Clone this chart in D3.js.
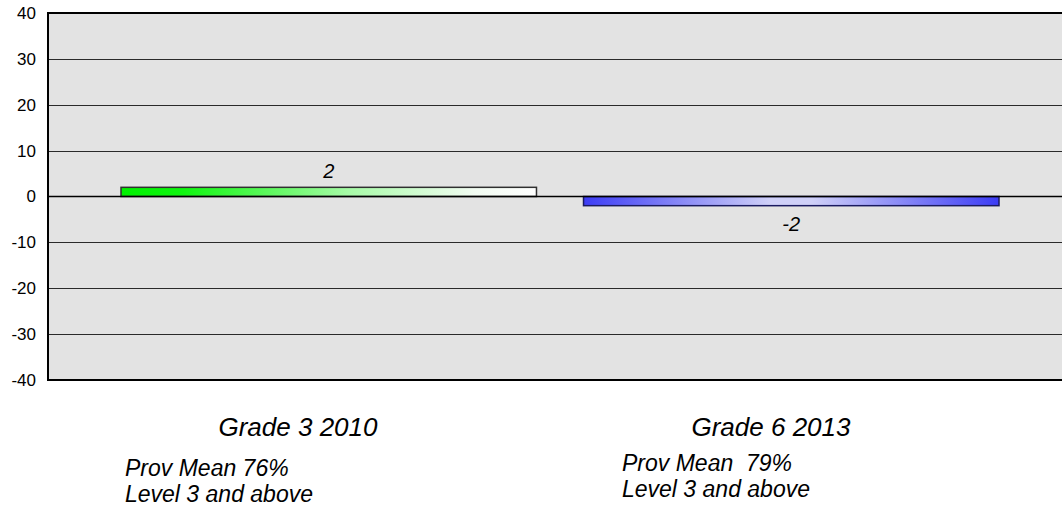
<!DOCTYPE html>
<html>
<head>
<meta charset="utf-8">
<script src="https://cdn.jsdelivr.net/npm/d3@7"></script>
<style>
  html, body { margin: 0; padding: 0; background: #ffffff; }
  svg { display: block; font-family: "Liberation Sans", Arial, sans-serif; }
</style>
</head>
<body>
<svg id="chart" width="1062" height="513"></svg>
<script>
// ---- data ----
const categories = ["Grade 3 2010", "Grade 6 2013"];
const values = [2, -2];
const subLine1 = ["Prov Mean 76%", "Prov Mean\u00a0 79%"];
const subLine2 = ["Level 3 and above", "Level 3 and above"];
const yTicks = [40, 30, 20, 10, 0, -10, -20, -30, -40];

// ---- layout ----
const svg = d3.select("#chart");
const plot = { left: 48, right: 1063, top: 13, bottom: 380 };

const y = d3.scaleLinear().domain([-40, 40]).range([plot.bottom, plot.top]);
const x = d3.scaleBand().domain(categories).range([121, 999]).paddingInner(47 / 462).paddingOuter(0);
const labelX = d3.scaleOrdinal().domain(categories).range([298, 771]);
const subX = d3.scaleOrdinal().domain(categories).range([125, 622]);
const subY = d3.scaleOrdinal().domain(categories).range([0, -5]);

const defs = svg.append("defs");
const g1 = defs.append("linearGradient").attr("id", "gradGreen").attr("x1", "0%").attr("x2", "100%");
g1.append("stop").attr("offset", "0%").attr("stop-color", "#00f000");
g1.append("stop").attr("offset", "15%").attr("stop-color", "#10f510");
g1.append("stop").attr("offset", "55%").attr("stop-color", "#a8fba8");
g1.append("stop").attr("offset", "85%").attr("stop-color", "#f2fcf2");
g1.append("stop").attr("offset", "100%").attr("stop-color", "#ffffff");

const g2 = defs.append("linearGradient").attr("id", "gradBlue").attr("x1", "0%").attr("x2", "100%");
g2.append("stop").attr("offset", "0%").attr("stop-color", "#3c3cf5");
g2.append("stop").attr("offset", "45%").attr("stop-color", "#cfd0f8");
g2.append("stop").attr("offset", "55%").attr("stop-color", "#cfd0f8");
g2.append("stop").attr("offset", "100%").attr("stop-color", "#3c3cf5");
const fills = ["url(#gradGreen)", "url(#gradBlue)"];
const strokes = ["#303030", "#1a1a60"];

// plot background
svg.append("rect")
  .attr("x", plot.left).attr("y", plot.top)
  .attr("width", plot.right - plot.left).attr("height", plot.bottom - plot.top)
  .attr("fill", "#e3e3e3");

// gridlines
svg.append("g").selectAll("line").data(yTicks.filter(t => t !== 0 && t !== -40))
  .join("line")
  .attr("x1", plot.left).attr("x2", plot.right)
  .attr("y1", d => Math.round(y(d)) + 0.5).attr("y2", d => Math.round(y(d)) + 0.5)
  .attr("stroke", "#2a2a2a").attr("stroke-width", 1.2);

// y axis
const yAxis = d3.axisLeft(y).tickValues(yTicks).tickFormat(d => String(d)).tickSize(0).tickPadding(12);
const ya = svg.append("g").attr("transform", `translate(${plot.left},0)`).call(yAxis);
ya.select(".domain").remove();
ya.selectAll("text").attr("font-size", 17).attr("fill", "#000")
  .attr("font-family", "Liberation Sans, Arial, sans-serif");

// bars
svg.append("g").selectAll("rect").data(values)
  .join("rect")
  .attr("x", (d, i) => x(categories[i]))
  .attr("width", x.bandwidth())
  .attr("y", d => y(Math.max(0, d)))
  .attr("height", d => Math.abs(y(d) - y(0)))
  .attr("fill", (d, i) => fills[i])
  .attr("stroke", (d, i) => strokes[i]).attr("stroke-width", 1.5);

// zero line
svg.append("line")
  .attr("x1", plot.left).attr("x2", plot.right)
  .attr("y1", y(0)).attr("y2", y(0))
  .attr("stroke", "#000").attr("stroke-width", 1.5);

// plot border (left, top, bottom)
svg.append("path")
  .attr("d", `M${plot.right},${plot.top}H${plot.left}V${plot.bottom}H${plot.right}`)
  .attr("fill", "none").attr("stroke", "#000").attr("stroke-width", 2);

// value labels
svg.append("g").selectAll("text").data(values)
  .join("text")
  .attr("x", (d, i) => x(categories[i]) + x.bandwidth() / 2)
  .attr("y", d => d >= 0 ? y(d) - 9 : y(d) + 25)
  .attr("text-anchor", "middle")
  .attr("font-size", 20).attr("font-style", "italic")
  .text(d => String(d));

// category labels
svg.append("g").selectAll("text").data(categories)
  .join("text")
  .attr("x", d => labelX(d))
  .attr("y", 436)
  .attr("text-anchor", "middle")
  .attr("font-size", 26).attr("font-style", "italic")
  .text(d => d);

// sub labels
const sub = svg.append("g").selectAll("text").data(categories)
  .join("text")
  .attr("font-size", 23).attr("font-style", "italic");
sub.append("tspan").attr("x", d => subX(d)).attr("y", d => 476 + subY(d)).text((d, i) => subLine1[i]);
sub.append("tspan").attr("x", d => subX(d)).attr("y", d => 502 + subY(d)).text((d, i) => subLine2[i]);
</script>
</body>
</html>
